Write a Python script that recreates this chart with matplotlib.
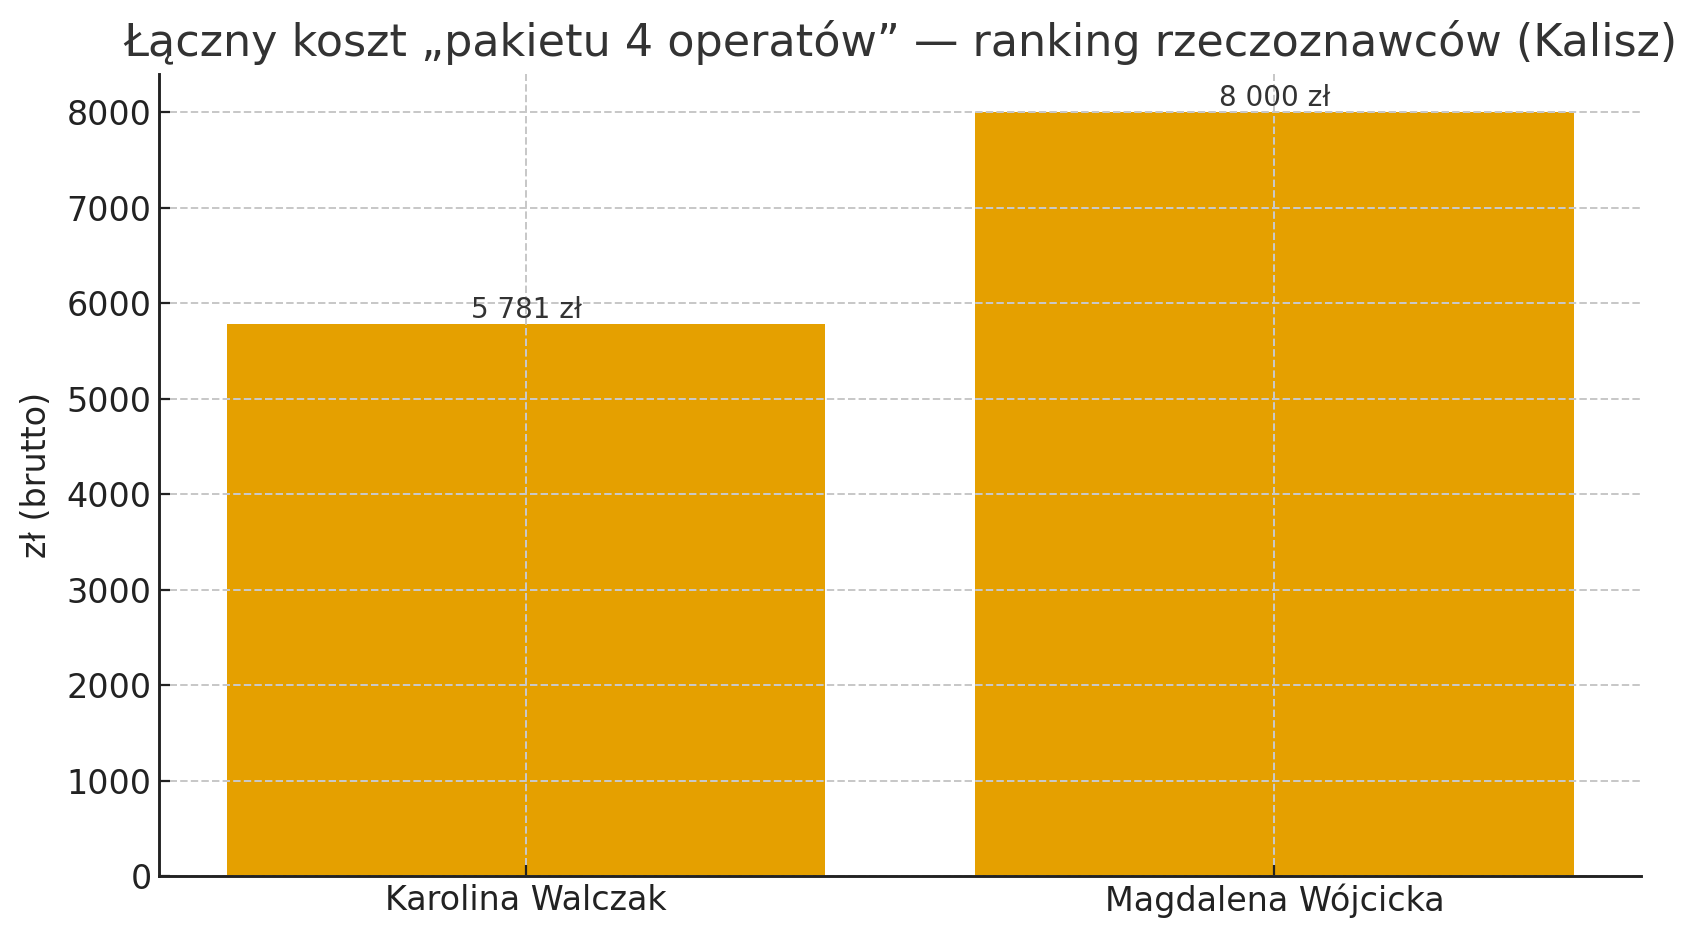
import matplotlib.pyplot as plt

# data
names = ["Karolina Walczak", "Magdalena Wójcicka"]
costs = [5781, 8000]
cost_labels = ["5 781 zł", "8 000 zł"]

plt.rcParams['font.family'] = ['DejaVu Sans']

fig, ax = plt.subplots(figsize=(10.6, 5.875), dpi=160)
fig.subplots_adjust(left=0.094, right=0.9676, bottom=0.068, top=0.921)

bars = ax.bar(range(len(names)), costs, width=0.8, color="#E5A000")

for i, (v, lab) in enumerate(zip(costs, cost_labels)):
    ax.text(i, v, lab, ha="center", va="bottom", fontsize=12.5, color="#333333")

ax.set_xticks(range(len(names)))
ax.set_xticklabels(names)
ax.set_yticks(range(0, 8001, 1000))
ax.set_ylabel("zł (brutto)", fontsize=15, color="#222222", labelpad=6)
ax.set_title("Łączny koszt „pakietu 4 operatów” — ranking rzeczoznawców (Kalisz)",
             fontsize=20, color="#333333", pad=8)

ax.grid(True, linestyle="--", color="#c8c8c8", linewidth=0.9)
ax.set_axisbelow(False)
ax.spines["top"].set_visible(False)
ax.spines["right"].set_visible(False)
for s in ("left", "bottom"):
    ax.spines[s].set_linewidth(1.3)
    ax.spines[s].set_color("#222222")
    ax.spines[s].set_zorder(5)
ax.tick_params(axis="both", direction="in", labelsize=15, length=5,
               width=1.0, colors="#222222")

fig.savefig("out.png", dpi=160)
